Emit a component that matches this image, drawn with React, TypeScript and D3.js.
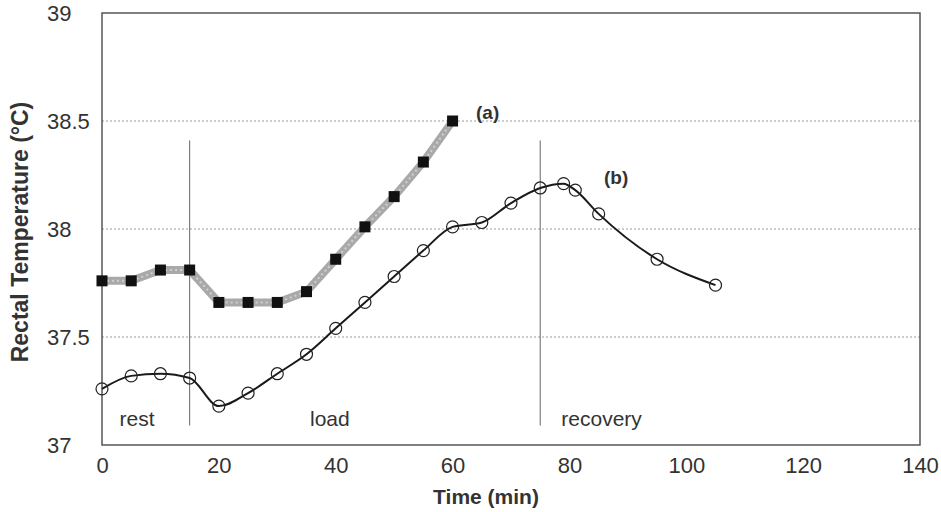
import React, { useEffect, useRef } from 'react';
import * as d3 from 'd3';

// time points (min)
const timeA = [0, 5, 10, 15, 20, 25, 30, 35, 40, 45, 50, 55, 60];
const tempA = [37.76, 37.76, 37.81, 37.81, 37.66, 37.66, 37.66, 37.71, 37.86, 38.01, 38.15, 38.31, 38.5];

const timeB = [0, 5, 10, 15, 20, 25, 30, 35, 40, 45, 50, 55, 60, 65, 70, 75, 79, 81, 85, 95, 105];
const tempB = [37.26, 37.32, 37.33, 37.31, 37.18, 37.24, 37.33, 37.42, 37.54, 37.66, 37.78, 37.9, 38.01, 38.03, 38.12, 38.19, 38.21, 38.18, 38.07, 37.86, 37.74];

const xTicks = [0, 20, 40, 60, 80, 100, 120, 140];
const yTicks = [37, 37.5, 38, 38.5, 39];
const gridValues = [37.5, 38, 38.5];

// phase separators and labels
const phaseLines = [15, 75];
const phaseLineRange = [37.09, 38.41];
const phaseNames = ['rest', 'load', 'recovery'];
const phaseNameX = [6, 39, 85.5];
const phaseNameY = 37.12;

const seriesNames = ['(a)', '(b)'];
const seriesNameX = [66, 88];
const seriesNameY = [38.54, 38.24];

const App = () => {
  const ref = useRef<SVGSVGElement | null>(null);

  useEffect(() => {
    const svg = d3.select(ref.current);
    svg.selectAll('*').remove();

    const width = 941;
    const height = 512;
    const margin = { top: 13, right: 21, bottom: 67, left: 102 };

    const x = d3.scaleLinear().domain([0, 140]).range([margin.left, width - margin.right]);
    const y = d3.scaleLinear().domain([37, 39]).range([height - margin.bottom, margin.top]);

    const font = 'Arial, "Liberation Sans", sans-serif';

    // dotted grid lines
    svg.append('g')
      .selectAll('line')
      .data(gridValues)
      .enter()
      .append('line')
      .attr('x1', x(0))
      .attr('x2', x(140))
      .attr('y1', d => y(d))
      .attr('y2', d => y(d))
      .attr('stroke', '#9a9a9a')
      .attr('stroke-width', 1)
      .attr('stroke-dasharray', '2,2');

    // frame
    svg.append('rect')
      .attr('x', x(0))
      .attr('y', y(39))
      .attr('width', x(140) - x(0))
      .attr('height', y(37) - y(39))
      .attr('fill', 'none')
      .attr('stroke', '#555')
      .attr('stroke-width', 1.5);

    // phase separator lines
    svg.append('g')
      .selectAll('line')
      .data(phaseLines)
      .enter()
      .append('line')
      .attr('x1', d => x(d))
      .attr('x2', d => x(d))
      .attr('y1', y(phaseLineRange[1]))
      .attr('y2', y(phaseLineRange[0]))
      .attr('stroke', '#666')
      .attr('stroke-width', 1);

    // x axis
    const xAxis = svg.append('g')
      .attr('transform', `translate(0,${y(37)})`)
      .call(d3.axisBottom(x).tickValues(xTicks).tickSize(0).tickPadding(12).tickFormat(d3.format('d')));
    xAxis.select('.domain').remove();
    xAxis.selectAll('text')
      .style('font-family', font)
      .style('font-size', '22px')
      .attr('fill', '#333');

    // y axis, labels are left-aligned
    const yAxis = svg.append('g')
      .attr('transform', `translate(${x(0)},0)`)
      .call(d3.axisLeft(y).tickValues(yTicks).tickSize(0).tickFormat(d => String(d)));
    yAxis.select('.domain').remove();
    yAxis.selectAll('text')
      .attr('x', 47 - x(0))
      .style('text-anchor', 'start')
      .style('font-family', font)
      .style('font-size', '22px')
      .attr('fill', '#333');

    // series (a): thick grey band with black squares
    const lineA = d3.line<number>()
      .x((d, i) => x(timeA[i]))
      .y(d => y(d));

    svg.append('path')
      .datum(tempA)
      .attr('d', lineA)
      .attr('fill', 'none')
      .attr('stroke', '#a9a9a9')
      .attr('stroke-width', 8);

    svg.append('path')
      .datum(tempA)
      .attr('d', lineA)
      .attr('fill', 'none')
      .attr('stroke', '#d0d0d0')
      .attr('stroke-width', 2)
      .attr('stroke-dasharray', '2,3');

    svg.append('g')
      .selectAll('rect')
      .data(tempA)
      .enter()
      .append('rect')
      .attr('x', (d, i) => x(timeA[i]) - 5.5)
      .attr('y', d => y(d) - 5.5)
      .attr('width', 11)
      .attr('height', 11)
      .attr('fill', '#111');

    // series (b): smooth black line with open circles
    const lineB = d3.line<number>()
      .x((d, i) => x(timeB[i]))
      .y(d => y(d))
      .curve(d3.curveMonotoneX);

    svg.append('path')
      .datum(tempB)
      .attr('d', lineB)
      .attr('fill', 'none')
      .attr('stroke', '#1a1a1a')
      .attr('stroke-width', 2);

    svg.append('g')
      .selectAll('circle')
      .data(tempB)
      .enter()
      .append('circle')
      .attr('cx', (d, i) => x(timeB[i]))
      .attr('cy', d => y(d))
      .attr('r', 6)
      .attr('fill', 'none')
      .attr('stroke', '#222')
      .attr('stroke-width', 1.2);

    // phase labels
    svg.append('g')
      .selectAll('text')
      .data(phaseNames)
      .enter()
      .append('text')
      .attr('x', (d, i) => x(phaseNameX[i]))
      .attr('y', y(phaseNameY))
      .attr('dy', '0.35em')
      .attr('text-anchor', 'middle')
      .style('font-family', font)
      .style('font-size', '21px')
      .attr('fill', '#333')
      .text(d => d);

    // series labels
    svg.append('g')
      .selectAll('text')
      .data(seriesNames)
      .enter()
      .append('text')
      .attr('x', (d, i) => x(seriesNameX[i]))
      .attr('y', (d, i) => y(seriesNameY[i]))
      .attr('dy', '0.35em')
      .attr('text-anchor', 'middle')
      .style('font-family', font)
      .style('font-size', '19px')
      .style('font-weight', 'bold')
      .attr('fill', '#333')
      .text(d => d);

    // axis titles
    svg.append('text')
      .attr('x', (x(0) + x(140)) / 2 - 25)
      .attr('y', 504)
      .attr('text-anchor', 'middle')
      .style('font-family', font)
      .style('font-size', '21px')
      .style('font-weight', 'bold')
      .attr('fill', '#333')
      .text('Time (min)');

    svg.append('text')
      .attr('transform', `translate(28,${232}) rotate(-90)`)
      .attr('text-anchor', 'middle')
      .style('font-family', font)
      .style('font-size', '23px')
      .style('font-weight', 'bold')
      .attr('fill', '#333')
      .text('Rectal Temperature (°C)');
  }, []);

  return (
    <svg
      ref={ref}
      width={941}
      height={512}
      style={{ position: 'absolute', left: 0, top: 0, background: '#fff' }}
    />
  );
};

export default App;
